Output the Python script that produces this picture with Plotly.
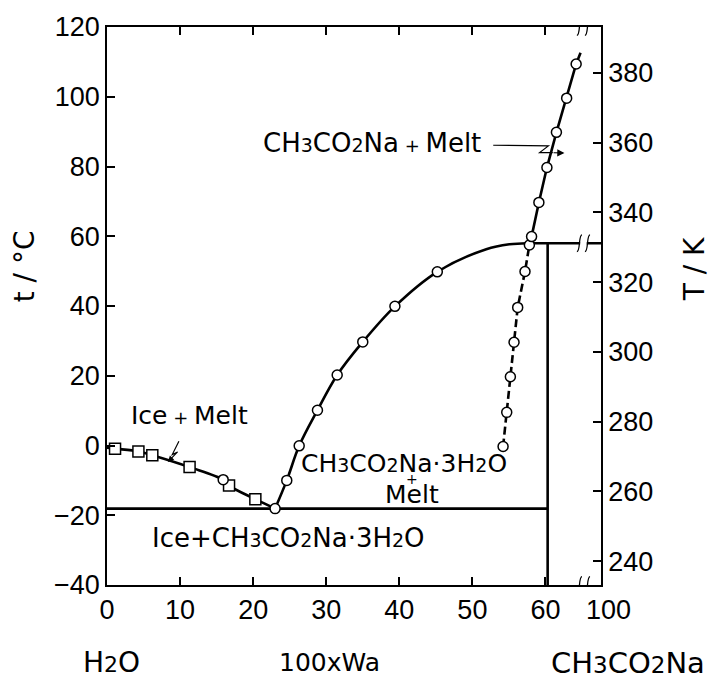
import plotly.graph_objects as go

# ---- data (w = 100 x Wa, t in deg C) ----
# ice liquidus: squares, plus one open circle lying on it
ice_w = [1.1, 4.3, 6.2, 11.3, 16.7, 20.3]
ice_t = [-0.9, -1.7, -2.8, -6.2, -11.5, -15.4]
ice_circ_w = [15.9]
ice_circ_t = [-9.8]
ice_start_w, ice_start_t = 0.0, -0.6

# eutectic point
eut_w = 23.0
eut_t = -18.1

# CH3CO2Na.3H2O liquidus (circles) and curve points without symbols
tri_w = [24.6, 26.3, 28.8, 31.5, 35.0, 39.4, 45.2]
tri_t = [-10.0, -0.1, 10.1, 20.2, 29.7, 39.9, 49.8]
tri_curve_w = [51.9, 55.1, 57.5]
tri_curve_t = [56.3, 57.7, 58.0]

# anhydrous CH3CO2Na liquidus: stable part (solid) and metastable part (dashed)
anh_w = [57.8, 58.1, 59.1, 60.2, 61.5, 62.9, 64.2]
anh_t = [57.5, 59.9, 69.7, 79.7, 89.8, 99.6, 109.4]
anh_end_w, anh_end_t = 64.8, 112.6
meta_w = [54.2, 54.7, 55.2, 55.7, 56.2, 57.2]
meta_t = [-0.3, 9.5, 19.7, 29.6, 39.6, 49.9]

t_eut_line = -18.1
t_trans = 58.0
w_hydrate = 60.3

x_max = 67.6          # right frame, labelled 100 (axis is broken)
x_break = 65.2
x_ticks = [0, 10, 20, 30, 40, 50, 60, x_max]
x_ticktext = ["0", "10", "20", "30", "40", "50", "60", "\u00a0\u00a0100"]
t_ticks = [-40, -20, 0, 20, 40, 60, 80, 100, 120]
k_ticks = [240, 260, 280, 300, 320, 340, 360, 380]

FONT = "Liberation Sans"
TXT = "DejaVu Sans"
LW = 2.6


def sub(d, size=19):
    return f"<span style='font-size:{size}px'>{d}</span>"


fig = go.Figure()

# phase boundary lines
fig.add_trace(go.Scatter(x=[0, w_hydrate], y=[t_eut_line, t_eut_line], mode="lines",
                         line=dict(color="black", width=LW)))
fig.add_trace(go.Scatter(x=[w_hydrate, w_hydrate], y=[-40, t_trans], mode="lines",
                         line=dict(color="black", width=LW)))
fig.add_trace(go.Scatter(x=[tri_curve_w[-1], x_max], y=[t_trans, t_trans], mode="lines",
                         line=dict(color="black", width=LW)))

# ice curve
iw = [ice_start_w] + ice_w[:4] + ice_circ_w + ice_w[4:] + [eut_w]
it = [ice_start_t] + ice_t[:4] + ice_circ_t + ice_t[4:] + [eut_t]
fig.add_trace(go.Scatter(x=iw, y=it, mode="lines", line=dict(color="black", width=LW, shape="spline")))

# trihydrate curve
fig.add_trace(go.Scatter(x=[eut_w] + tri_w + tri_curve_w, y=[eut_t] + tri_t + tri_curve_t,
                         mode="lines", line=dict(color="black", width=LW, shape="spline")))

# anhydrous salt curve
fig.add_trace(go.Scatter(x=meta_w + [anh_w[0]], y=meta_t + [anh_t[0]], mode="lines",
                         line=dict(color="black", width=LW, dash="8px,4px")))
fig.add_trace(go.Scatter(x=anh_w + [anh_end_w], y=anh_t + [anh_end_t], mode="lines",
                         line=dict(color="black", width=LW)))

# symbols
fig.add_trace(go.Scatter(x=ice_w, y=ice_t, mode="markers",
                         marker=dict(symbol="square", size=11, color="white",
                                     line=dict(color="black", width=1.5))))
fig.add_trace(go.Scatter(x=ice_circ_w + [eut_w] + tri_w + meta_w + anh_w,
                         y=ice_circ_t + [eut_t] + tri_t + meta_t + anh_t, mode="markers",
                         marker=dict(symbol="circle", size=10, color="white",
                                     line=dict(color="black", width=1.5))))

# Kelvin axis carrier
fig.add_trace(go.Scatter(x=[0], y=[300], yaxis="y2", mode="markers",
                         marker=dict(opacity=0), hoverinfo="skip"))

# axis break marks
shapes = []
for yb in (120, -40, t_trans):
    shapes.append(dict(type="rect", xref="x", yref="y", x0=x_break - 0.45, x1=x_break + 0.45,
                       y0=yb - 0.9, y1=yb + 0.9, fillcolor="white", line=dict(width=0),
                       layer="above"))
    for dx in (-0.55, 0.55):
        xc = x_break + dx
        shapes.append(dict(type="path", xref="x", yref="y", layer="above",
                           path=f"M {xc-0.35},{yb-2.4} C {xc+0.15},{yb-2.4} {xc-0.15},{yb+2.4} {xc+0.35},{yb+2.4}",
                           line=dict(color="black", width=1.3)))

# pointers
shapes.append(dict(type="path", xref="x", yref="y",
                   path="M 52.85,86.1 L 60.4,85.9 L 59.2,84.0 L 61.0,83.95",
                   line=dict(color="black", width=1.2)))
shapes.append(dict(type="path", xref="x", yref="y",
                   path="M 9.84,1.2 L 8.93,-2.6 L 9.66,-1.85 L 8.7,-3.9",
                   line=dict(color="black", width=1.2)))

plus = "<span style='font-size:18px'> + </span>"
annotations = [
    dict(x=62.6, y=83.9, ax=60.9, ay=83.95, axref="x", ayref="y",
         text="", showarrow=True, arrowhead=2, arrowsize=1.2, arrowwidth=1.2, arrowcolor="black"),
    dict(x=8.33, y=-4.7, ax=8.75, ay=-3.8, axref="x", ayref="y",
         text="", showarrow=True, arrowhead=2, arrowsize=1.0, arrowwidth=1.2, arrowcolor="black"),
    dict(x=36.3, y=86.8, text=f"CH{sub(3)}CO{sub(2)}Na{plus}Melt",
         font=dict(size=26, family=TXT, color="black")),
    dict(x=11.3, y=8.6, text=f"Ice{plus}Melt"),
    dict(x=40.6, y=-5.2, text=f"CH{sub(3)}CO{sub(2)}Na·3H{sub(2)}O"),
    dict(x=41.75, y=-9.6, text="+", font=dict(size=14, family=TXT, color="black")),
    dict(x=41.7, y=-14.1, text="Melt"),
    dict(x=24.9, y=-26.4, text=f"Ice+CH{sub(3)}CO{sub(2)}Na·3H{sub(2)}O",
         font=dict(size=26, family=TXT, color="black")),
]
for a in annotations:
    a.setdefault("showarrow", False)
    a.setdefault("font", dict(size=25, family=TXT, color="black"))
    a["xref"] = "x"
    a["yref"] = "y"


def px_x(p):
    return (p - 107.5) / 493.2


def px_y(p):
    return (584.5 - p) / 564.0


for txt, px, py, ang, size in [(f"H{sub(2, 22)}O", 112, 663, 0, 28), ("100xWa", 330, 663, 0, 25),
                               (f"CH{sub(3, 23)}CO{sub(2, 23)}Na", 628, 663, 0, 29),
                               ("t / °C", 26, 262, -90, 28), ("T / K", 694, 265, -90, 28)]:
    annotations.append(dict(x=px_x(px), y=px_y(py), xref="paper", yref="paper", text=txt,
                            xanchor="center", yanchor="middle", showarrow=False,
                            textangle=ang, font=dict(size=size, family=TXT, color="black")))

axis_common = dict(showline=True, linecolor="black", linewidth=1.8, ticks="inside",
                   ticklen=8, tickwidth=1.5, tickcolor="black", showgrid=False,
                   zeroline=False, tickfont=dict(size=27, color="black"))

fig.update_layout(
    width=720, height=687,
    margin=dict(l=107, r=119, t=20, b=102),
    plot_bgcolor="white", paper_bgcolor="white",
    showlegend=False,
    font=dict(family=FONT, color="black"),
    xaxis=dict(range=[0, x_max], tickvals=x_ticks, ticktext=x_ticktext, mirror="ticks",
               **axis_common),
    yaxis=dict(range=[-40, 120], tickvals=t_ticks, **axis_common),
    yaxis2=dict(range=[-40 + 273.15, 120 + 273.15], tickvals=k_ticks, overlaying="y",
                side="right", anchor="x", **axis_common),
    shapes=shapes,
    annotations=annotations,
)

fig.write_html("out.html", config={"displayModeBar": False},
               post_script="document.body.style.margin='0';")
